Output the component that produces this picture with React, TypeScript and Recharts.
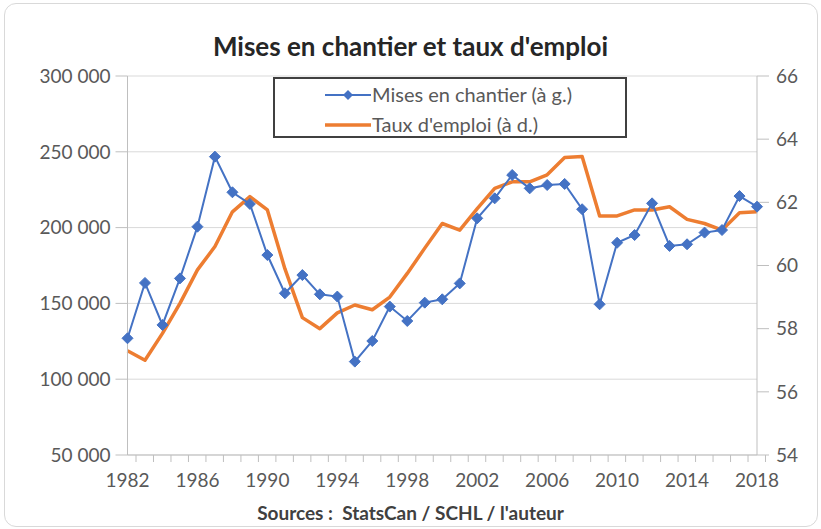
import { LineChart, Line, XAxis, YAxis, CartesianGrid, Legend } from 'recharts';

const years = [
  1982, 1983, 1984, 1985, 1986, 1987, 1988, 1989, 1990, 1991, 1992, 1993, 1994,
  1995, 1996, 1997, 1998, 1999, 2000, 2001, 2002, 2003, 2004, 2005, 2006, 2007,
  2008, 2009, 2010, 2011, 2012, 2013, 2014, 2015, 2016, 2017, 2018,
];

// Mises en chantier (axe de gauche)
const misesEnChantier = [
  127000, 163500, 135800, 166500, 200600, 246800, 223300, 215600, 181900, 156700,
  168700, 156000, 154500, 111600, 125200, 147900, 138400, 150500, 152700, 163200,
  206100, 219300, 234700, 225900, 228100, 228800, 212100, 149400, 190000, 195100,
  216000, 187900, 189000, 196700, 198400, 220800, 213800,
];

// Taux d'emploi (axe de droite)
const tauxEmploi = [
  57.3, 57.0, 57.85, 58.8, 59.86, 60.6, 61.7, 62.18, 61.76, 59.9, 58.35, 58.0,
  58.5, 58.75, 58.6, 59.0, 59.75, 60.55, 61.33, 61.12, 61.8, 62.44, 62.65, 62.65,
  62.87, 63.42, 63.45, 61.57, 61.57, 61.76, 61.76, 61.86, 61.46, 61.33, 61.12,
  61.67, 61.7,
];

const leftTicks = [50000, 100000, 150000, 200000, 250000, 300000];
const rightTicks = [54, 56, 58, 60, 62, 64, 66];
const labelYears = [1982, 1986, 1990, 1994, 1998, 2002, 2006, 2010, 2014, 2018];

const data = years.map((y, i) => ({
  annee: y,
  mises: misesEnChantier[i],
  taux: tauxEmploi[i],
}));

const W = 821;
const H = 529;
const PLOT_LEFT = 127.5;
const PLOT_RIGHT = 757;
const PLOT_TOP = 76;
const PLOT_BOTTOM = 455;
const HALF_BAND = (PLOT_RIGHT - PLOT_LEFT) / years.length / 2;

const BLUE = '#4472C4';
const ORANGE = '#ED7D31';
const AXIS = '#BFBFBF';
const TEXT = '#595959';
const FONT = 'Lato, "Open Sans", sans-serif';

const fmtThousands = (v: number) =>
  String(v).replace(/\B(?=(\d{3})+(?!\d))/g, ' ');

const Diamond = (props: any) => {
  const { cx, cy, index } = props;
  if (cx == null || cy == null) return <g key={index} />;
  const r = 5.5;
  return (
    <polygon
      key={index}
      points={`${cx},${cy - r} ${cx + r},${cy} ${cx},${cy + r} ${cx - r},${cy}`}
      fill={BLUE}
      stroke={BLUE}
      strokeWidth={1}
    />
  );
};

const YearTick = (props: any) => {
  const { x, y, payload } = props;
  const show = labelYears.includes(payload.value);
  return (
    <g>
      <line x1={x + HALF_BAND} x2={x + HALF_BAND} y1={y} y2={y + 7} stroke={AXIS} strokeWidth={1} />
      {show && (
        <text x={x} y={y + 32} textAnchor="middle" fill={TEXT} fontSize={19} fontFamily={FONT}>
          {payload.value}
        </text>
      )}
    </g>
  );
};

const LegendBox = () => (
  <div
    style={{
      width: 350,
      height: 57,
      border: '2px solid #404040',
      background: '#fff',
      position: 'relative',
    }}
  >
    <svg width={350} height={57} style={{ position: 'absolute', left: 0, top: 0 }}>
      <line x1={50} x2={96} y1={16} y2={16} stroke={BLUE} strokeWidth={2} />
      <polygon points="73,11 78,16 73,21 68,16" fill={BLUE} />
      <line x1={50} x2={96} y1={46} y2={46} stroke={ORANGE} strokeWidth={3.5} />
      <text x={97} y={23} fill={TEXT} fontSize={20} fontFamily={FONT}>
        Mises en chantier (à g.)
      </text>
      <text x={97} y={53} fill={TEXT} fontSize={20} fontFamily={FONT}>
        Taux d'emploi (à d.)
      </text>
    </svg>
  </div>
);

export default function App() {
  return (
    <div
      style={{
        position: 'absolute',
        left: 0,
        top: 0,
        width: W,
        height: H,
        background: '#fff',
        fontFamily: FONT,
      }}
    >
      <div
        style={{
          position: 'absolute',
          left: 4,
          top: 3,
          width: 812,
          height: 522,
          border: '1px solid #D9D9D9',
          borderRadius: 12,
        }}
      />
      <div
        style={{
          position: 'absolute',
          left: 0,
          top: 30,
          width: W,
          textAlign: 'center',
          fontSize: 26,
          fontWeight: 700,
          color: '#262626',
          lineHeight: '32px',
        }}
      >
        Mises en chantier et taux d'emploi
      </div>
      <div style={{ position: 'absolute', left: 0, top: 0 }}>
        <LineChart
          width={W}
          height={H}
          data={data}
          margin={{ top: PLOT_TOP, right: W - PLOT_RIGHT - 60, bottom: H - PLOT_BOTTOM - 40, left: 0 }}
        >
          <CartesianGrid yAxisId="left" vertical={false} stroke="#D9D9D9" strokeWidth={1} />
          <XAxis
            dataKey="annee"
            interval={0}
            tickLine={false}
            tickSize={0}
            tickMargin={0}
            height={40}
            stroke={AXIS}
            tick={<YearTick />}
          />
          <YAxis
            yAxisId="left"
            orientation="left"
            width={PLOT_LEFT}
            domain={[50000, 300000]}
            ticks={leftTicks}
            tickFormatter={fmtThousands}
            stroke={AXIS}
            tickSize={12}
            tickMargin={5}
            tick={{ fill: TEXT, fontSize: 19, fontFamily: FONT }}
          />
          <YAxis
            yAxisId="right"
            orientation="right"
            width={60}
            domain={[54, 66]}
            ticks={rightTicks}
            stroke={AXIS}
            tickSize={12}
            tickMargin={7}
            tick={{ fill: TEXT, fontSize: 19, fontFamily: FONT }}
          />
          <Legend
            layout="vertical"
            align="center"
            verticalAlign="middle"
            wrapperStyle={{ left: 273, top: 77, width: 354 }}
            content={() => <LegendBox />}
          />
          <Line
            yAxisId="right"
            dataKey="taux"
            name="Taux d'emploi (à d.)"
            type="linear"
            stroke={ORANGE}
            strokeWidth={3.5}
            strokeLinejoin="round"
            dot={false}
            isAnimationActive={false}
          />
          <Line
            yAxisId="left"
            dataKey="mises"
            name="Mises en chantier (à g.)"
            type="linear"
            stroke={BLUE}
            strokeWidth={2}
            dot={<Diamond />}
            isAnimationActive={false}
          />
        </LineChart>
      </div>
      <div
        style={{
          position: 'absolute',
          left: 0,
          top: 500,
          width: W,
          textAlign: 'center',
          fontSize: 19,
          fontWeight: 700,
          color: '#404040',
          lineHeight: '26px',
        }}
      >
        Sources :&nbsp; StatsCan / SCHL / l'auteur
      </div>
    </div>
  );
}
